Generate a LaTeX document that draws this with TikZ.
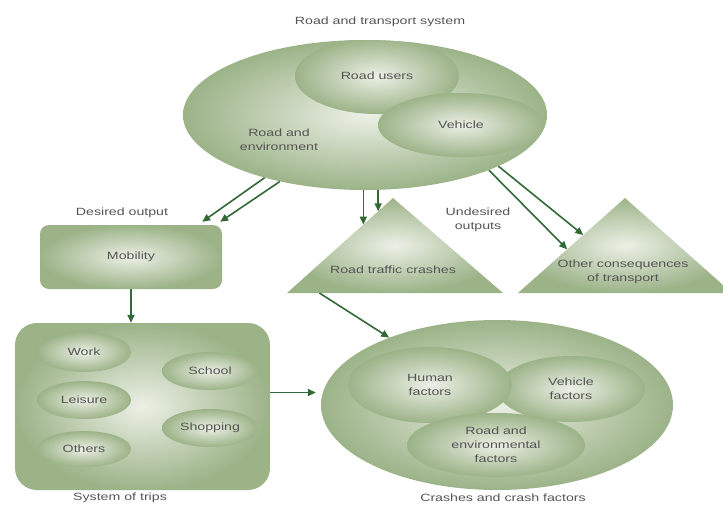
\documentclass[tikz,border=0pt]{standalone}
\usepackage{fontspec}
\setsansfont{Liberation Sans}[FakeStretch=1.35]
\usetikzlibrary{shapes.geometric, arrows.meta, positioning, calc}
\definecolor{sage}{RGB}{156,179,136}
\definecolor{sagelt}{RGB}{236,240,230}
\definecolor{leafdk}{RGB}{50,105,55}
\definecolor{inkgray}{RGB}{85,85,85}

\begin{document}
\begin{tikzpicture}[x=1pt, y=-1pt,
  font=\sffamily\fontsize{10.5}{14}\selectfont, text=inkgray,
  blob/.style={ellipse, inner color=sagelt, outer color=sage, inner sep=0pt, align=center},
  panel/.style={rectangle, inner color=sagelt, outer color=sage, align=center},
  tri/.style={inner color=sagelt, outer color=sage},
  arr/.style={-{Triangle[length=8pt, width=7pt]}, draw=leafdk, line width=1.6pt},
  lbl/.style={align=center, inner sep=1pt}]
\fill[white] (0,0) rectangle (723,506);
\clip (0,0) rectangle (723,506);
% road and transport system
\node[lbl] (title) at (380,22) {Road and transport system};
\node[blob, minimum width=364pt, minimum height=150pt] (rts) at (365,115) {};
\begin{scope}
  \clip (rts.center) ellipse [x radius=182pt, y radius=75pt];
  \node[blob, minimum width=164pt, minimum height=76pt] (users) at (377,76) {Road users};
  \node[blob, minimum width=166pt, minimum height=64pt] (vehicle) at (461,125) {Vehicle};
\end{scope}
\node[lbl] (roadenv) at (279,140) {Road and\\environment};
% outputs
\node[lbl] (desired) at (122,213) {Desired output};
\node[panel, rounded corners=9pt, minimum width=182pt, minimum height=64pt] (mob) at (131,257) {Mobility};
\node[lbl] (undesired) at (478,220) {Undesired\\outputs};
\coordinate (rtcA) at (393,198);
\coordinate (rtcL) at (287,293);
\coordinate (rtcR) at (503,293);
\shade[tri] (rtcL) -- (rtcA) -- (rtcR) -- cycle;
\node[lbl] (rtc) at (393,270) {Road traffic crashes};
\coordinate (ocA) at (625,198);
\coordinate (ocL) at (518,293);
\coordinate (ocR) at (732,293);
\shade[tri] (ocL) -- (ocA) -- (ocR) -- cycle;
\node[lbl] (other) at (623,272) {Other consequences\\of transport};
% system of trips
\node[panel, rounded corners=22pt, minimum width=255pt, minimum height=167pt] (trips) at (142.5,406.5) {};
\node[blob, minimum width=94pt, minimum height=40pt] (work) at (84,352) {Work};
\node[blob, minimum width=94pt, minimum height=38pt] (leisure) at (84,400) {Leisure};
\node[blob, minimum width=94pt, minimum height=36pt] (others) at (84,449) {Others};
\node[blob, minimum width=96pt, minimum height=38pt] (school) at (210,371) {School};
\node[blob, minimum width=96pt, minimum height=38pt] (shop) at (210,428) {Shopping};
\node[lbl] (tripslbl) at (120,498) {System of trips};
% crashes and crash factors
\node[blob, minimum width=352pt, minimum height=170pt] (crash) at (497,405) {};
\node[blob, minimum width=148pt, minimum height=66pt] (vehf) at (571,389) {Vehicle\\factors};
\node[blob, minimum width=164pt, minimum height=76pt] (human) at (430,385) {Human\\factors};
\node[blob, minimum width=178pt, minimum height=64pt] (roadf) at (496,445) {Road and\\environmental\\factors};
\node[lbl] (crashlbl) at (503,498) {Crashes and crash factors};
% connectors
\coordinate (rtcIn1) at ($(rtcA)!0.28!(rtcL)$);
\coordinate (rtcIn2) at ($(rtcA)!0.14!(rtcL)$);
\coordinate (rtcOut) at ($(rtcL)!0.15!(rtcR)$);
\coordinate (ocIn1) at ($(ocA)!0.54!(ocL)$);
\coordinate (ocIn2) at ($(ocA)!0.39!(ocL)$);
\draw[arr] (rts.212) -- ([xshift=-20pt, yshift=3pt]mob.north east);
\draw[arr] (rts.218) -- ([xshift=-2pt, yshift=3pt]mob.north east);
\draw[arr] (rtcIn1 |- rts.south) -- (rtcIn1);
\draw[arr] (rtcIn2 |- rts.south) -- (rtcIn2);
\draw[arr] (rts.336) -- (ocIn1);
\draw[arr] (rts.339) -- (ocIn2);
\draw[arr] (mob.south) -- (mob.south |- trips.north);
\draw[arr] ([yshift=14pt]trips.east) -- ([xshift=-5pt, yshift=14pt]trips.east -| crash.west);
\draw[arr] (rtcOut) -- (crash.148);
\end{tikzpicture}
\end{document}
